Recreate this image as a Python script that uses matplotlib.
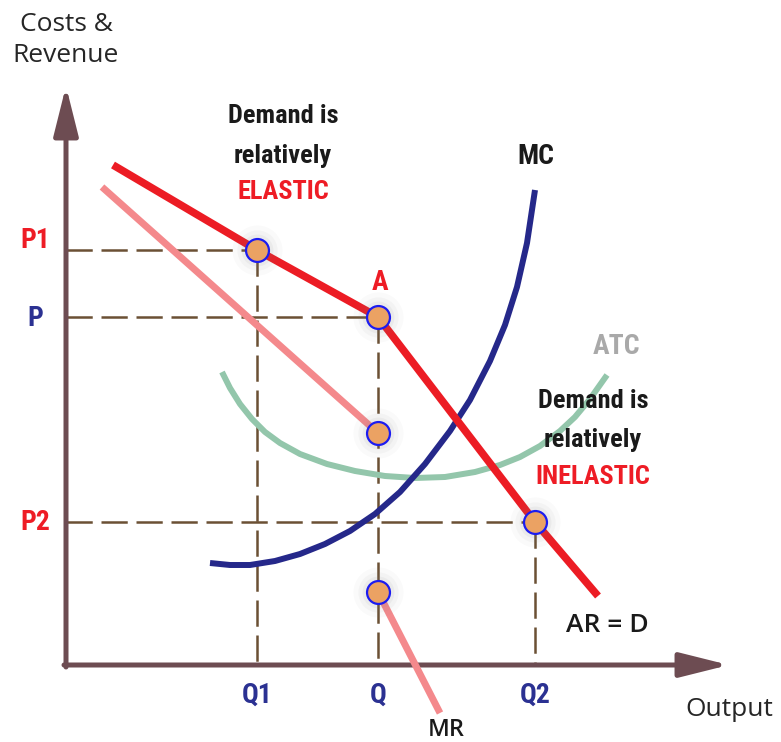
"""
Kinked demand curve diagram (oligopoly) - redrawn with matplotlib.
"""
import matplotlib
matplotlib.use("Agg")
import matplotlib.pyplot as plt
from matplotlib import font_manager

# quantities / prices (pixel-like units, y grows downward)
Q1, Q, Q2 = 257, 378, 535
P1, P, P2 = 250, 317, 522

demand_x = [113, 257, 378, 535, 598]
demand_y = [165, 250, 317, 522, 596]

mr_upper_x = [102, 378]
mr_upper_y = [187, 433]
mr_lower_x = [378, 440]
mr_lower_y = [592, 713]

mc_x = [210, 230, 250, 275, 300, 325, 350, 375, 400, 425, 450, 470, 490, 505, 517, 527, 535]
mc_y = [563, 565, 565, 561, 554, 544, 531, 514, 492, 464, 431, 400, 361, 325, 287, 243, 190]

atc_x = [222, 230, 240, 252, 265, 280, 300, 327, 355, 385, 415, 445, 475, 500, 520, 540, 560, 575, 590, 607]
atc_y = [372, 388, 404, 419, 432, 443, 454, 464, 471, 476, 478, 477, 472, 465, 457, 446, 431, 417, 399, 375]

point_x = [Q1, Q, Q, Q, Q2]
point_y = [P1, P, 433, 592, P2]

price_labels = ["P1", "P", "P2"]
price_values = [P1, P, P2]
price_colors = ["#ee1c25", "#2b3192", "#ee1c25"]
qty_labels = ["Q1", "Q", "Q2"]
qty_values = [Q1, Q, Q2]

AXIS_COLOR = "#6d4c52"
DASH_COLOR = "#6b5034"
ORIGIN_X, ORIGIN_Y = 66, 665

# pick a narrow bold face if one is installed
installed = {f.name for f in font_manager.fontManager.ttflist}
COND_FONT, COND_SIZE = "Roboto", 16
for name, size in [("Roboto Condensed", 19), ("Liberation Sans Narrow", 19)]:
    if name in installed:
        COND_FONT, COND_SIZE = name, size
        break
COND = [COND_FONT, "DejaVu Sans"]
PLAIN = ["Open Sans", "DejaVu Sans"]

fig = plt.figure(figsize=(7.81, 7.42), dpi=100)
ax = fig.add_axes([0, 0, 1, 1])
ax.set_xlim(0, 781)
ax.set_ylim(742, 0)
ax.axis("off")

# guide lines
for qv, pv in zip([Q1, Q, Q2], [P1, P, P2]):
    ax.plot([ORIGIN_X, qv], [pv, pv], color=DASH_COLOR, lw=1.8, dashes=(10.5, 3.5), zorder=1)
    ax.plot([qv, qv], [pv, ORIGIN_Y], color=DASH_COLOR, lw=1.8, dashes=(10.5, 3.5), zorder=1)

# axes with arrows
arrow = dict(arrowstyle="-|>,head_length=30,head_width=7.5", mutation_scale=1,
             lw=3.6, color=AXIS_COLOR, shrinkA=0, shrinkB=0)
ax.annotate("", xy=(ORIGIN_X, 86), xytext=(ORIGIN_X, ORIGIN_Y + 2), arrowprops=arrow, zorder=2)
ax.annotate("", xy=(729, ORIGIN_Y), xytext=(ORIGIN_X - 2, ORIGIN_Y), arrowprops=arrow, zorder=2)

# curves
ax.plot(atc_x, atc_y, color="#93c6ab", lw=4.3, solid_capstyle="butt",
        solid_joinstyle="round", zorder=3)
ax.plot(mr_upper_x, mr_upper_y, color="#f4898c", lw=5, solid_capstyle="butt", zorder=3)
ax.plot(mr_lower_x, mr_lower_y, color="#f4898c", lw=5, solid_capstyle="butt", zorder=3)
ax.plot(mc_x, mc_y, color="#25288a", lw=4.3, solid_capstyle="butt",
        solid_joinstyle="round", zorder=4)
ax.plot(demand_x, demand_y, color="#ec1c24", lw=5.5, solid_capstyle="butt",
        solid_joinstyle="round", zorder=5)

# points with soft shadow
for size, alpha in [(36, 0.04), (29, 0.05), (23, 0.07)]:
    ax.plot(point_x, point_y, "o", ms=size, color="#808080", alpha=alpha,
            mec="none", zorder=6)
ax.plot(point_x, point_y, "o", ms=16.5, mfc="#eba263", mec="#1c1cf0", mew=1.6, zorder=7)

# axis titles
ax.text(66, 40, "Costs &\nRevenue", ha="center", va="center", fontsize=19,
        family=PLAIN, color="#262626", linespacing=1.3)
ax.text(729, 709, "Output", ha="center", va="center", fontsize=19,
        family=PLAIN, color="#262626")

offsets = [-9, 1, 0]
for lab, pv, col, off in zip(price_labels, price_values, price_colors, offsets):
    ax.text(35, pv + off, lab, ha="center", va="center", fontsize=COND_SIZE + 1,
            fontweight="bold", family=COND, color=col)
for lab, qv in zip(qty_labels, qty_values):
    ax.text(qv, 695, lab, ha="center", va="center", fontsize=COND_SIZE + 1,
            fontweight="bold", family=COND, color="#2b3192")

ax.text(380, 283, "A", ha="center", va="center", fontsize=COND_SIZE + 1,
        fontweight="bold", family=COND, color="#ee1c25")
ax.text(536, 157, "MC", ha="center", va="center", fontsize=COND_SIZE + 1,
        fontweight="bold", family=COND, color="#1a1a1a")
ax.text(616, 346, "ATC", ha="center", va="center", fontsize=COND_SIZE + 1,
        fontweight="bold", family=COND, color="#a9a9a9")
ax.text(607, 625, "AR = D", ha="center", va="center", fontsize=19,
        family=PLAIN, fontweight="semibold", color="#1a1a1a")
ax.text(446, 718, "MR", ha="center", va="top", fontsize=17,
        family=PLAIN, fontweight="semibold", color="#1a1a1a")

# elasticity notes
for cx, ys, word in [(283, (116, 156, 192), "ELASTIC"), (593, (401, 440, 477), "INELASTIC")]:
    ax.text(cx, ys[0], "Demand is", ha="center", va="center", fontsize=COND_SIZE,
            fontweight="bold", family=COND, color="#1a1a1a")
    ax.text(cx, ys[1], "relatively", ha="center", va="center", fontsize=COND_SIZE,
            fontweight="bold", family=COND, color="#1a1a1a")
    ax.text(cx, ys[2], word, ha="center", va="center", fontsize=COND_SIZE,
            fontweight="bold", family=COND, color="#ee1c25")

fig.savefig("out.png", dpi=100)
